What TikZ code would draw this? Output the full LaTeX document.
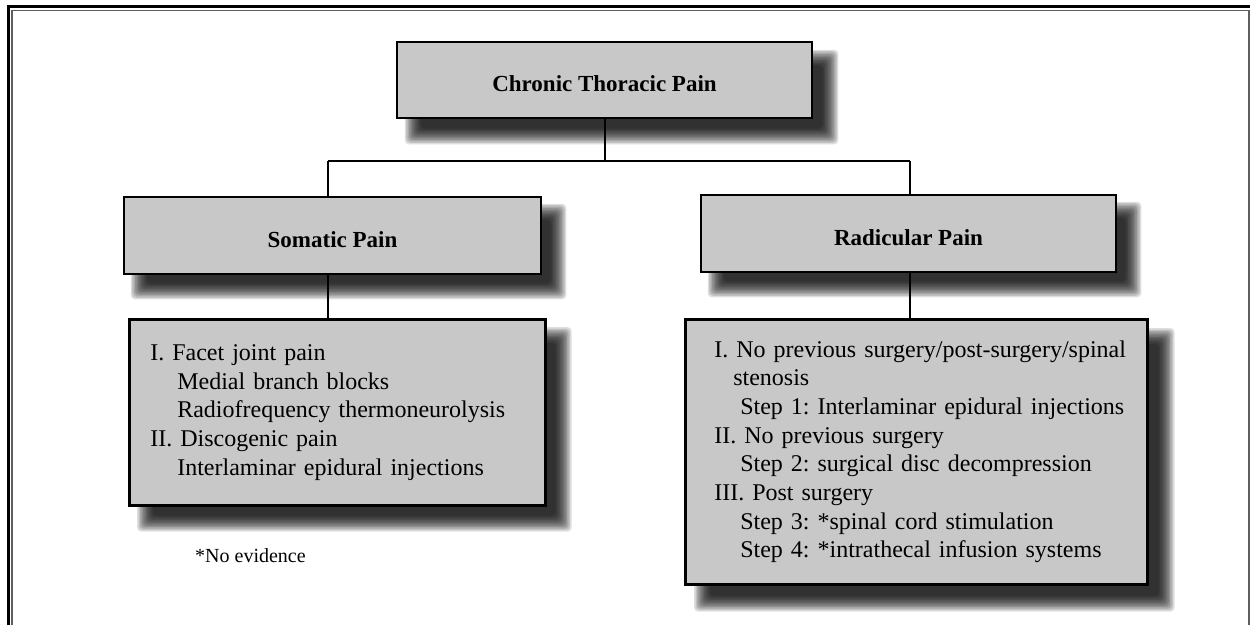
\documentclass[tikz,border=0pt]{standalone}
\usepackage{fontspec}
\setmainfont{Liberation Serif}
\usetikzlibrary{backgrounds,calc}
\definecolor{boxgray}{RGB}{200,200,200}
\definecolor{framegray}{RGB}{95,95,95}
\frenchspacing
\newcommand{\softshadow}[2]{%
  \foreach \shk in {0,...,11}{%
    \pgfmathsetmacro{\shexp}{-8+1.45*\shk}
    \fill[black, opacity=0.13, rounded corners=4pt]
      ($(#1.north west)+(#2-\shexp,#2-\shexp)$) rectangle ($(#1.south east)+(#2+\shexp,#2+\shexp)$);
  }}
\newcommand{\headtext}[1]{\raisebox{-11.5pt}[0pt][0pt]{#1}}
\tikzset{
  boxbase/.style={draw=black, line width=2.6pt, fill=boxgray, inner sep=0pt},
  headbox/.style={boxbase, font=\fontsize{23}{27}\selectfont\bfseries},
  listbox/.style={boxbase, font=\fontsize{24}{28.7}\selectfont, align=left, anchor=north west},
  link/.style={draw=black, line width=2.2pt},
  frameouter/.style={draw=black, line width=3pt},
  frameinner/.style={draw=framegray, line width=1.5pt},
}
\begin{document}
\begin{tikzpicture}[x=1pt,y=-1pt]
\useasboundingbox (0,0) rectangle (1250,625);
% frame
\draw[frameouter] (8,625) -- (8,6.5) -- (1250,6.5);
\draw[frameinner] (12,625) -- (12,10.5) -- (1249,10.5) -- (1249,625);

% boxes
\node[headbox, minimum width=415pt, minimum height=76pt] (top) at (604.5,80) {\headtext{Chronic Thoracic Pain}};
\node[headbox, minimum width=417pt, minimum height=77pt] (somatic) at (332.5,235.5) {\headtext{Somatic Pain}};
\node[headbox, minimum width=415pt, minimum height=77pt] (radicular) at (908.5,233.5) {\headtext{Radicular Pain}};

\node[listbox, inner xsep=21pt, text width=374pt, minimum height=186pt] (lowleft) at (128,318) {%
\mbox{I. Facet joint pain}\\
\mbox{\hspace{27pt}Medial branch blocks}\\
\mbox{\hspace{27pt}Radiofrequency thermoneurolysis}\\
\mbox{II. Discogenic pain}\\
\mbox{\hspace{27pt}Interlaminar epidural injections}};

\node[listbox, inner xsep=29pt, text width=404pt, minimum height=265pt] (lowright) at (684,318) {%
\mbox{I. No previous surgery/post-surgery/spinal}\\
\mbox{\hspace{19pt}stenosis}\\
\mbox{\hspace{26pt}Step 1: Interlaminar epidural injections}\\
\mbox{II. No previous surgery}\\
\mbox{\hspace{26pt}Step 2: surgical disc decompression}\\
\mbox{III. Post surgery}\\
\mbox{\hspace{26pt}Step 3: *spinal cord stimulation}\\
\mbox{\hspace{26pt}Step 4: *intrathecal infusion systems}};

\node[anchor=base west, inner sep=0pt, font=\fontsize{20}{24}\selectfont] (note) at (195,562) {*No evidence};

% shadows
\begin{scope}[on background layer]
  \softshadow{top}{17}
  \softshadow{somatic}{16}
  \softshadow{radicular}{16}
  \softshadow{lowleft}{17}
  \softshadow{lowright}{18}
\end{scope}

% connectors
\coordinate (jt) at (605,161);
\coordinate (jl) at (328,161);
\coordinate (jr) at (910,161);
\draw[link] (top.south -| jt) -- (jt);
\draw[link] (jl) -- (jr);
\draw[link] (jl) -- (somatic.north -| jl);
\draw[link] (jr) -- (radicular.north -| jr);
\draw[link] (somatic.south -| jl) -- (lowleft.north -| jl);
\draw[link] (radicular.south -| jr) -- (lowright.north -| jr);
\end{tikzpicture}
\end{document}
